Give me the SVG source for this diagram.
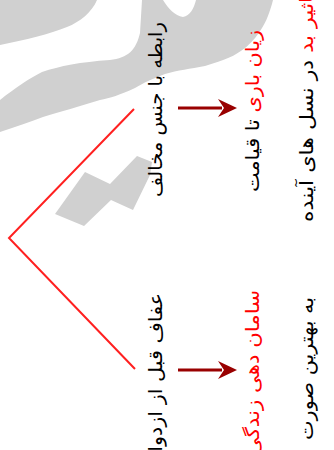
<svg xmlns="http://www.w3.org/2000/svg" width="334" height="450" viewBox="0 0 334 450">
<style>
.t{font-family:"DejaVu Sans",sans-serif;font-size:19px;fill:#000}
.r{fill:#ff0000}
.wm{fill:#d0d0d0}
.br{stroke:#ff2020;stroke-width:2;fill:none}
.ar{stroke:#990000;stroke-width:3;fill:none}
</style>
<defs>
<marker id="ah" viewBox="0 0 20 20" refX="4" refY="10" markerWidth="20" markerHeight="20" markerUnits="userSpaceOnUse" orient="auto">
<path d="M0,1 L19,10 L0,19 L6,10 Z" fill="#990000"/>
</marker>
</defs>
<rect width="334" height="450" fill="#fff"/>
<g id="watermark">
<path class="wm" d="M0,0 L97,0 C92,12 80,22 67,27 C50,34 25,40 0,45 Z"/>
<path class="wm" d="M0,100 C15,88 30,78 42,72 C60,66 80,62 110,60 C128,58 136,50 140,33 L142,0 L163,0 C168,8 175,16 183,17 C190,16 194,8 196,0 L273,0 C270,12 266,22 262,28 C256,38 250,44 245,48 C235,56 225,60 205,66 C190,69 178,70 165,74 C150,80 145,82 135,88 C120,95 110,98 100,100 C80,106 60,112 43,117 C30,122 15,127 0,132 Z"/>
<path class="wm" d="M55,214 L85,172 L110,184 L137,156 L152,162 L150,175 L133,210 L111,200 L84,226 Z"/>
</g>
<g id="connectors">
<path class="br" d="M134,109 L9,238 L135,369"/>
<line class="ar" x1="178" y1="108" x2="222" y2="108" marker-end="url(#ah)"/>
<line class="ar" x1="178" y1="370" x2="222" y2="370" marker-end="url(#ah)"/>
</g>
<g id="node-relation">
<text class="t" text-anchor="end" textLength="175" lengthAdjust="spacingAndGlyphs" transform="translate(162,22) rotate(-90)">رابطه با جنس مخالف</text>
</g>
<g id="node-chastity">
<text class="t" text-anchor="end" textLength="172" lengthAdjust="spacingAndGlyphs" transform="translate(162,293) rotate(-90)">عفاف قبل از ازدواج</text>
</g>
<g id="node-harm">
<text class="t" text-anchor="end" textLength="162" lengthAdjust="spacingAndGlyphs" transform="translate(259,30) rotate(-90)"><tspan class="r">زیان باری</tspan> تا قیامت</text>
</g>
<g id="node-generations">
<text class="t" text-anchor="end" textLength="232" lengthAdjust="spacingAndGlyphs" transform="translate(313,-10) rotate(-90)"><tspan class="r">تاثیر بد</tspan> در نسل های آینده</text>
</g>
<g id="node-life">
<text class="t r" text-anchor="end" textLength="165" lengthAdjust="spacingAndGlyphs" transform="translate(259,290) rotate(-90)">سامان دهی زندگی</text>
</g>
<g id="node-best">
<text class="t" text-anchor="end" textLength="143" lengthAdjust="spacingAndGlyphs" transform="translate(313,297) rotate(-90)">به بهترین صورت</text>
</g>
</svg>
